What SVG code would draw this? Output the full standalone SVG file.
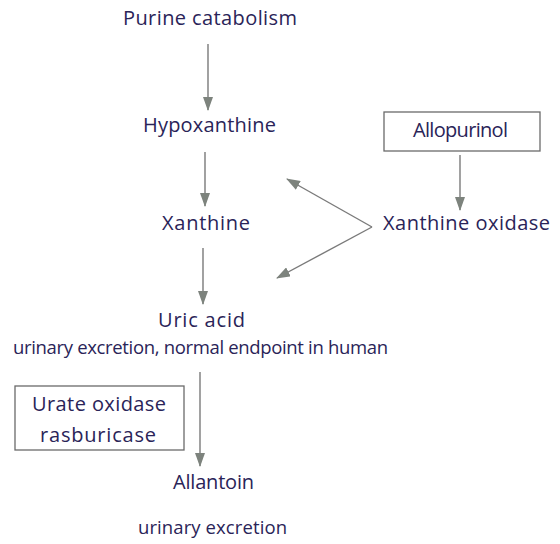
<svg xmlns="http://www.w3.org/2000/svg" width="560" height="544" viewBox="0 0 560 544">
<style>
text{font-family:"Open Sans","Liberation Sans",sans-serif;font-size:20px;fill:#2a2458}
.s{font-size:18.5px}
.box{fill:none;stroke:#6a6a6a;stroke-width:1.3}
.ln{stroke:#7a7a7a;stroke-width:1.4;fill:none}
</style>
<defs>
<marker id="ah" viewBox="0 0 14 10" refX="13" refY="5" markerWidth="14" markerHeight="10" markerUnits="userSpaceOnUse" orient="auto">
<path d="M0,0 L14,5 L0,10 Z" fill="#7d837d"/>
</marker>
</defs>
<rect width="560" height="544" fill="#fff"/>
<g id="connectors">
<line class="ln" x1="208" y1="44" x2="208" y2="110" marker-end="url(#ah)"/>
<line class="ln" x1="205" y1="152" x2="205" y2="206" marker-end="url(#ah)"/>
<line class="ln" x1="460" y1="155" x2="460" y2="210" marker-end="url(#ah)"/>
<line class="ln" x1="372" y1="227" x2="287" y2="179" marker-end="url(#ah)"/>
<line class="ln" x1="372" y1="227" x2="277" y2="278" marker-end="url(#ah)"/>
<line class="ln" x1="203" y1="248" x2="203" y2="304" marker-end="url(#ah)"/>
<line class="ln" x1="200" y1="372" x2="200" y2="466" marker-end="url(#ah)"/>
</g>
<g id="purine"><text x="123" y="25" textLength="174" lengthAdjust="spacing">Purine catabolism</text></g>
<g id="hypoxanthine"><text x="143" y="132" textLength="133" lengthAdjust="spacing">Hypoxanthine</text></g>
<g id="allopurinol"><rect class="box" x="384" y="112" width="156" height="39"/><text x="413" y="137" textLength="95" lengthAdjust="spacing">Allopurinol</text></g>
<g id="xanthine"><text x="162" y="230" textLength="88" lengthAdjust="spacing">Xanthine</text></g>
<g id="xanthine-oxidase"><text x="383" y="230" textLength="167" lengthAdjust="spacing">Xanthine oxidase</text></g>
<g id="uric-acid"><text x="158" y="327" textLength="87" lengthAdjust="spacing">Uric acid</text><text class="s" x="13" y="354" textLength="375" lengthAdjust="spacing">urinary excretion, normal endpoint in human</text></g>
<g id="urate-oxidase"><rect class="box" x="15" y="386" width="169" height="64"/><text x="32" y="411" textLength="134" lengthAdjust="spacing">Urate oxidase</text><text x="40" y="442" textLength="116" lengthAdjust="spacing">rasburicase</text></g>
<g id="allantoin"><text x="173" y="489" textLength="81" lengthAdjust="spacing">Allantoin</text><text class="s" x="138" y="534" textLength="149" lengthAdjust="spacing">urinary excretion</text></g>
</svg>
